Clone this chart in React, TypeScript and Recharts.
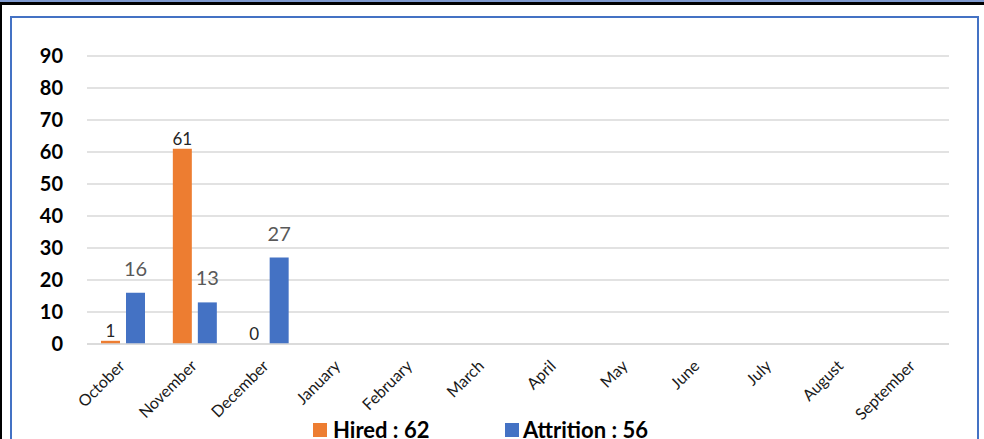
import { BarChart, Bar, XAxis, YAxis, CartesianGrid, LabelList } from 'recharts'

const months = [
  'October', 'November', 'December', 'January', 'February', 'March',
  'April', 'May', 'June', 'July', 'August', 'September',
]
const hired = [1, 61, 0, null, null, null, null, null, null, null, null, null]
const attrition = [16, 13, 27, null, null, null, null, null, null, null, null, null]
const yTicks = [0, 10, 20, 30, 40, 50, 60, 70, 80, 90]

const data = months.map((month, i) => ({ month, hired: hired[i], attrition: attrition[i] }))

const sum = (arr: (number | null)[]) => arr.reduce<number>((a, v) => a + (v ?? 0), 0)

const FONT = 'Lato, "Open Sans", sans-serif'
const ORANGE = '#ed7d31'
const BLUE = '#4472c4'

const MonthTick = (props: any) => {
  const { x, y, payload } = props
  const tx = x + 3
  const ty = y + 23
  return (
    <text
      x={tx}
      y={ty}
      transform={`rotate(-45, ${tx}, ${ty})`}
      textAnchor="end"
      fontSize={16}
      fontFamily={FONT}
      fill="#1a1a1a"
    >
      {payload.value}
    </text>
  )
}

// value labels drawn by hand so a zero-height bar still gets its "0"
const barLabel = (offset: number, size: number, color: string) => (p: any) => {
  if (p.value === null || p.value === undefined) return null
  const cx = Number(p.x) + Number(p.width) / 2
  const top = Math.min(Number(p.y), Number(p.y) + Number(p.height))
  return (
    <text x={cx} y={top - offset} textAnchor="middle" fontSize={size} fontFamily={FONT} fill={color}>
      {p.value}
    </text>
  )
}

const legendText = {
  position: 'absolute' as const,
  top: 418.5,
  fontFamily: FONT,
  fontWeight: 700,
  fontSize: 22,
  lineHeight: '22px',
  color: '#000',
  whiteSpace: 'nowrap' as const,
}

export default function App() {
  return (
    <div style={{ position: 'absolute', left: 0, top: 0, width: 984, height: 439, background: '#fff', overflow: 'hidden' }}>
      {/* window frame bits */}
      <div style={{ position: 'absolute', left: 0, top: 0, width: 984, height: 2, background: '#7f9ad0' }} />
      <div style={{ position: 'absolute', left: 0, top: 2, width: 984, height: 3, background: '#000' }} />
      <div style={{ position: 'absolute', left: 0, top: 2, width: 2, height: 437, background: '#000' }} />
      <div style={{ position: 'absolute', left: 10, top: 16, width: 965, height: 440, border: `2px solid ${BLUE}` }} />

      <div style={{ position: 'absolute', left: 0, top: 0 }}>
        <BarChart
          width={984}
          height={439}
          data={data}
          margin={{ top: 56, right: 35, bottom: 0, left: 27 }}
          barSize={19}
          barGap={6}
        >
          <CartesianGrid vertical={false} stroke="#d9d9d9" strokeWidth={1.5} />
          <XAxis
            dataKey="month"
            height={95}
            interval={0}
            axisLine={{ stroke: '#d9d9d9', strokeWidth: 1.5 }}
            tickLine={false}
            tickSize={0}
            tickMargin={0}
            tick={<MonthTick />}
          />
          <YAxis
            width={60}
            domain={[0, 90]}
            ticks={yTicks}
            axisLine={false}
            tickLine={false}
            tickMargin={18}
            tick={{ fontSize: 20, fontWeight: 700, fill: '#000', fontFamily: FONT }}
          />
          <Bar
            dataKey="hired"
            fill={ORANGE}
            minPointSize={(v: any) => (v === 0 ? 0.01 : 0)}
            isAnimationActive={false}
          >
            <LabelList dataKey="hired" content={barLabel(4, 17, '#262626')} />
          </Bar>
          <Bar dataKey="attrition" fill={BLUE} isAnimationActive={false}>
            <LabelList dataKey="attrition" content={barLabel(17, 20, '#595959')} />
          </Bar>
        </BarChart>
      </div>

      {/* legend */}
      <div style={{ position: 'absolute', left: 313, top: 423, width: 14, height: 14, background: ORANGE }} />
      <div style={{ ...legendText, left: 333 }}>Hired : {sum(hired)}</div>
      <div style={{ position: 'absolute', left: 505, top: 423, width: 14, height: 14, background: BLUE }} />
      <div style={{ ...legendText, left: 523 }}>Attrition : {sum(attrition)}</div>
    </div>
  )
}
